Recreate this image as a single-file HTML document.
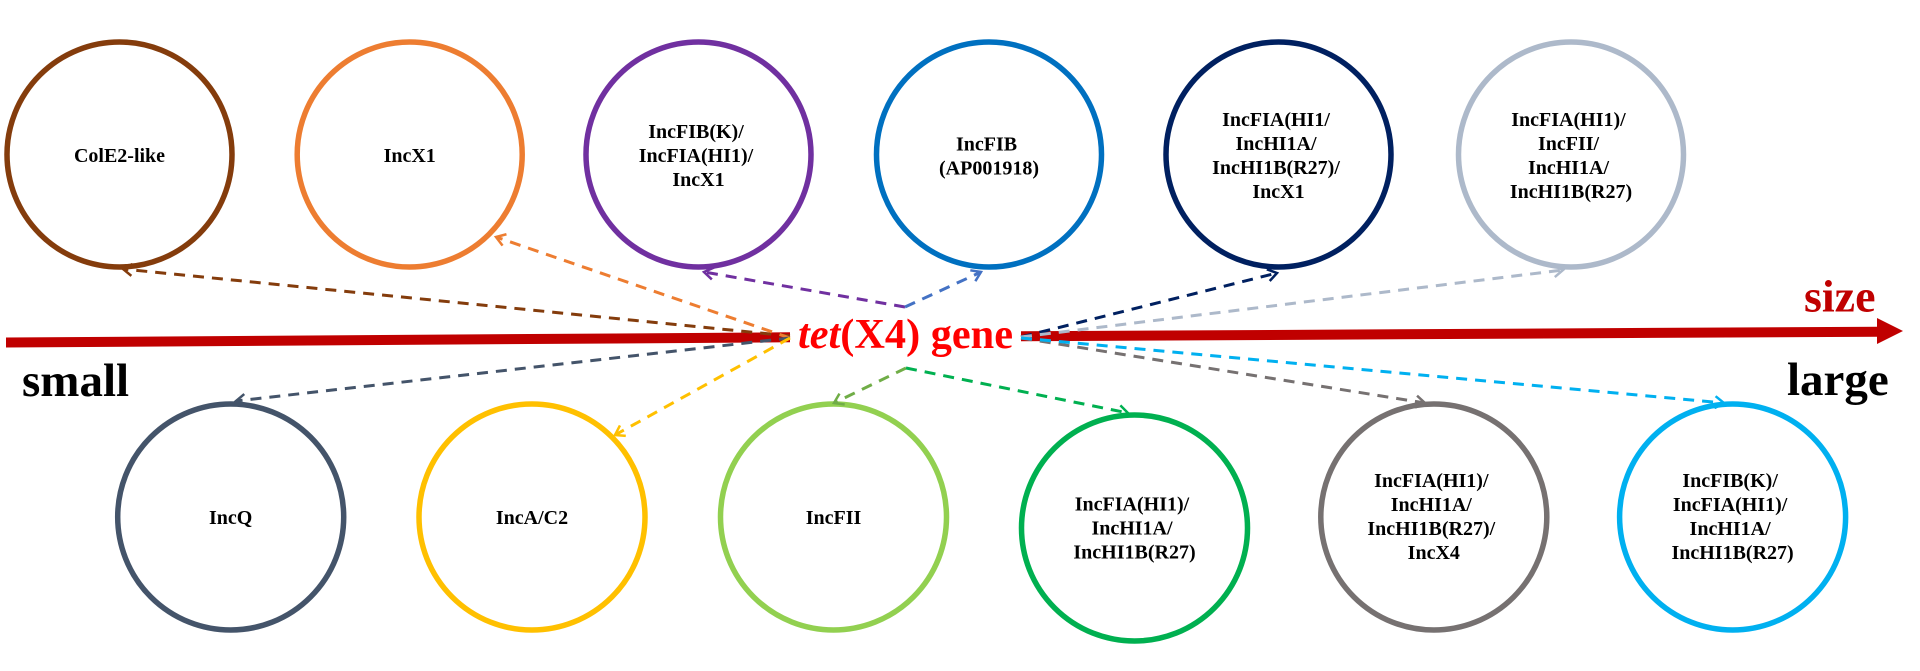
<!DOCTYPE html>
<html>
<head>
<meta charset="utf-8">
<style>
  html, body { margin: 0; padding: 0; background: #ffffff; }
  body { width: 1920px; height: 671px; overflow: hidden; }
  svg { display: block; }
  .lbl { font-family: "Liberation Serif", "Times New Roman", serif; font-weight: bold; font-size: 20px; fill: #000; }
  .c { fill: none; stroke-width: 5.5; }
  .d { fill: none; stroke-width: 3; stroke-dasharray: 11 8; }
</style>
</head>
<body>
<svg width="1920" height="671" viewBox="0 0 1920 671" xmlns="http://www.w3.org/2000/svg">
  <defs>
    <marker id="m1" markerUnits="userSpaceOnUse" markerWidth="14" markerHeight="14" viewBox="0 0 14 14" refX="11" refY="7" orient="auto"><path d="M2,1 L11,7 L2,13" fill="none" stroke="#843C0C" stroke-width="2.5"/></marker>
    <marker id="m2" markerUnits="userSpaceOnUse" markerWidth="14" markerHeight="14" viewBox="0 0 14 14" refX="11" refY="7" orient="auto"><path d="M2,1 L11,7 L2,13" fill="none" stroke="#ED7D31" stroke-width="2.5"/></marker>
    <marker id="m3" markerUnits="userSpaceOnUse" markerWidth="14" markerHeight="14" viewBox="0 0 14 14" refX="11" refY="7" orient="auto"><path d="M2,1 L11,7 L2,13" fill="none" stroke="#7030A0" stroke-width="2.5"/></marker>
    <marker id="m4" markerUnits="userSpaceOnUse" markerWidth="14" markerHeight="14" viewBox="0 0 14 14" refX="11" refY="7" orient="auto"><path d="M2,1 L11,7 L2,13" fill="none" stroke="#4472C4" stroke-width="2.5"/></marker>
    <marker id="m5" markerUnits="userSpaceOnUse" markerWidth="14" markerHeight="14" viewBox="0 0 14 14" refX="11" refY="7" orient="auto"><path d="M2,1 L11,7 L2,13" fill="none" stroke="#002060" stroke-width="2.5"/></marker>
    <marker id="m6" markerUnits="userSpaceOnUse" markerWidth="14" markerHeight="14" viewBox="0 0 14 14" refX="11" refY="7" orient="auto"><path d="M2,1 L11,7 L2,13" fill="none" stroke="#ADB9CA" stroke-width="2.5"/></marker>
    <marker id="m7" markerUnits="userSpaceOnUse" markerWidth="14" markerHeight="14" viewBox="0 0 14 14" refX="11" refY="7" orient="auto"><path d="M2,1 L11,7 L2,13" fill="none" stroke="#44546A" stroke-width="2.5"/></marker>
    <marker id="m8" markerUnits="userSpaceOnUse" markerWidth="14" markerHeight="14" viewBox="0 0 14 14" refX="11" refY="7" orient="auto"><path d="M2,1 L11,7 L2,13" fill="none" stroke="#FFC000" stroke-width="2.5"/></marker>
    <marker id="m9" markerUnits="userSpaceOnUse" markerWidth="14" markerHeight="14" viewBox="0 0 14 14" refX="11" refY="7" orient="auto"><path d="M2,1 L11,7 L2,13" fill="none" stroke="#70AD47" stroke-width="2.5"/></marker>
    <marker id="m10" markerUnits="userSpaceOnUse" markerWidth="14" markerHeight="14" viewBox="0 0 14 14" refX="11" refY="7" orient="auto"><path d="M2,1 L11,7 L2,13" fill="none" stroke="#00B050" stroke-width="2.5"/></marker>
    <marker id="m11" markerUnits="userSpaceOnUse" markerWidth="14" markerHeight="14" viewBox="0 0 14 14" refX="11" refY="7" orient="auto"><path d="M2,1 L11,7 L2,13" fill="none" stroke="#767171" stroke-width="2.5"/></marker>
    <marker id="m12" markerUnits="userSpaceOnUse" markerWidth="14" markerHeight="14" viewBox="0 0 14 14" refX="11" refY="7" orient="auto"><path d="M2,1 L11,7 L2,13" fill="none" stroke="#00B0F0" stroke-width="2.5"/></marker>
  </defs>

  <!-- Axis (red bar) -->
  <polygon points="6,337.5 790,332.3 790,342.3 6,347.5" fill="#C00000"/>
  <polygon points="1021,331.3 1880,326.7 1880,336.7 1021,341.3" fill="#C00000"/>
  <polygon points="1877,318 1903,331 1877,344" fill="#C00000"/>

  <!-- Top row circles -->
  <circle class="c" cx="119.5" cy="154.5" r="112.5" stroke="#843C0C"/>
  <circle class="c" cx="409.7" cy="154.5" r="112.5" stroke="#ED7D31"/>
  <circle class="c" cx="698.5" cy="154.5" r="112.5" stroke="#7030A0"/>
  <circle class="c" cx="989" cy="154.5" r="112.5" stroke="#0070C0"/>
  <circle class="c" cx="1278.5" cy="154.5" r="112.5" stroke="#002060"/>
  <circle class="c" cx="1571" cy="154.5" r="112.5" stroke="#ADB9CA"/>

  <!-- Bottom row circles -->
  <circle class="c" cx="230.7" cy="517" r="113" stroke="#44546A"/>
  <circle class="c" cx="532" cy="517" r="113" stroke="#FFC000"/>
  <circle class="c" cx="833.5" cy="517" r="113" stroke="#92D050"/>
  <circle class="c" cx="1134.5" cy="528" r="113" stroke="#00B050"/>
  <circle class="c" cx="1433.8" cy="517" r="113" stroke="#767171"/>
  <circle class="c" cx="1732.6" cy="517" r="113" stroke="#00B0F0"/>

  <!-- Connectors -->
  <line class="d" x1="790" y1="336" x2="123" y2="269" stroke="#843C0C" marker-end="url(#m1)"/>
  <line class="d" x1="790" y1="338" x2="496" y2="237" stroke="#ED7D31" marker-end="url(#m2)"/>
  <line class="d" x1="905" y1="307" x2="704" y2="272" stroke="#7030A0" marker-end="url(#m3)"/>
  <line class="d" x1="905" y1="307" x2="981" y2="272" stroke="#4472C4" marker-end="url(#m4)"/>
  <line class="d" x1="1021" y1="337" x2="1277" y2="273" stroke="#002060" marker-end="url(#m5)"/>
  <line class="d" x1="1021" y1="337" x2="1563" y2="270" stroke="#ADB9CA" marker-end="url(#m6)"/>
  <line class="d" x1="790" y1="338" x2="236" y2="401" stroke="#44546A" marker-end="url(#m7)"/>
  <line class="d" x1="790" y1="338" x2="615" y2="435" stroke="#FFC000" marker-end="url(#m8)"/>
  <line class="d" x1="906" y1="368" x2="834" y2="403" stroke="#70AD47" marker-end="url(#m9)"/>
  <line class="d" x1="906" y1="368" x2="1128" y2="413" stroke="#00B050" marker-end="url(#m10)"/>
  <line class="d" x1="1021" y1="338" x2="1425" y2="403" stroke="#767171" marker-end="url(#m11)"/>
  <line class="d" x1="1021" y1="338" x2="1724" y2="403" stroke="#00B0F0" marker-end="url(#m12)"/>

  <!-- Center label -->
  <text x="798" y="348" textLength="215" lengthAdjust="spacingAndGlyphs" font-family="'Liberation Serif', 'Times New Roman', serif" font-weight="bold" font-size="42" fill="#FF0000"><tspan font-style="italic">tet</tspan>(X4) gene</text>

  <!-- Axis labels -->
  <text x="22" y="396" font-family="'Liberation Serif', 'Times New Roman', serif" font-weight="bold" font-size="47" fill="#000">small</text>
  <text x="1787" y="395" font-family="'Liberation Serif', 'Times New Roman', serif" font-weight="bold" font-size="47" fill="#000">large</text>
  <text x="1804" y="311.5" font-family="'Liberation Serif', 'Times New Roman', serif" font-weight="bold" font-size="46" fill="#C00000">size</text>

  <!-- Top row labels -->
  <text class="lbl" text-anchor="middle" x="119.5" y="162">ColE2-like</text>
  <text class="lbl" text-anchor="middle" x="409.7" y="162">IncX1</text>
  <text class="lbl" text-anchor="middle" x="698.5">
    <tspan x="698.5" y="138">IncFIB(K)/</tspan>
    <tspan x="698.5" y="162">IncFIA(HI1)/</tspan>
    <tspan x="698.5" y="186">IncX1</tspan>
  </text>
  <text class="lbl" text-anchor="middle" x="989">
    <tspan x="989" y="150.5">IncFIB</tspan>
    <tspan x="989" y="174.5">(AP001918)</tspan>
  </text>
  <text class="lbl" text-anchor="middle" x="1278.5">
    <tspan x="1278.5" y="126">IncFIA(HI1/</tspan>
    <tspan x="1278.5" y="150">IncHI1A/</tspan>
    <tspan x="1278.5" y="174">IncHI1B(R27)/</tspan>
    <tspan x="1278.5" y="198">IncX1</tspan>
  </text>
  <text class="lbl" text-anchor="middle" x="1571">
    <tspan x="1571" y="126">IncFIA(HI1)/</tspan>
    <tspan x="1571" y="150">IncFII/</tspan>
    <tspan x="1571" y="174">IncHI1A/</tspan>
    <tspan x="1571" y="198">IncHI1B(R27)</tspan>
  </text>

  <!-- Bottom row labels -->
  <text class="lbl" text-anchor="middle" x="230.7" y="524">IncQ</text>
  <text class="lbl" text-anchor="middle" x="532" y="524">IncA/C2</text>
  <text class="lbl" text-anchor="middle" x="833.5" y="524">IncFII</text>
  <text class="lbl" text-anchor="middle" x="1134.5">
    <tspan x="1134.5" y="510.5">IncFIA(HI1)/</tspan>
    <tspan x="1134.5" y="534.5">IncHI1A/</tspan>
    <tspan x="1134.5" y="558.5">IncHI1B(R27)</tspan>
  </text>
  <text class="lbl" text-anchor="middle" x="1433.8">
    <tspan x="1433.8" y="487">IncFIA(HI1)/</tspan>
    <tspan x="1433.8" y="511">IncHI1A/</tspan>
    <tspan x="1433.8" y="535">IncHI1B(R27)/</tspan>
    <tspan x="1433.8" y="559">IncX4</tspan>
  </text>
  <text class="lbl" text-anchor="middle" x="1732.6">
    <tspan x="1732.6" y="487">IncFIB(K)/</tspan>
    <tspan x="1732.6" y="511">IncFIA(HI1)/</tspan>
    <tspan x="1732.6" y="535">IncHI1A/</tspan>
    <tspan x="1732.6" y="559">IncHI1B(R27)</tspan>
  </text>
</svg>
</body>
</html>
